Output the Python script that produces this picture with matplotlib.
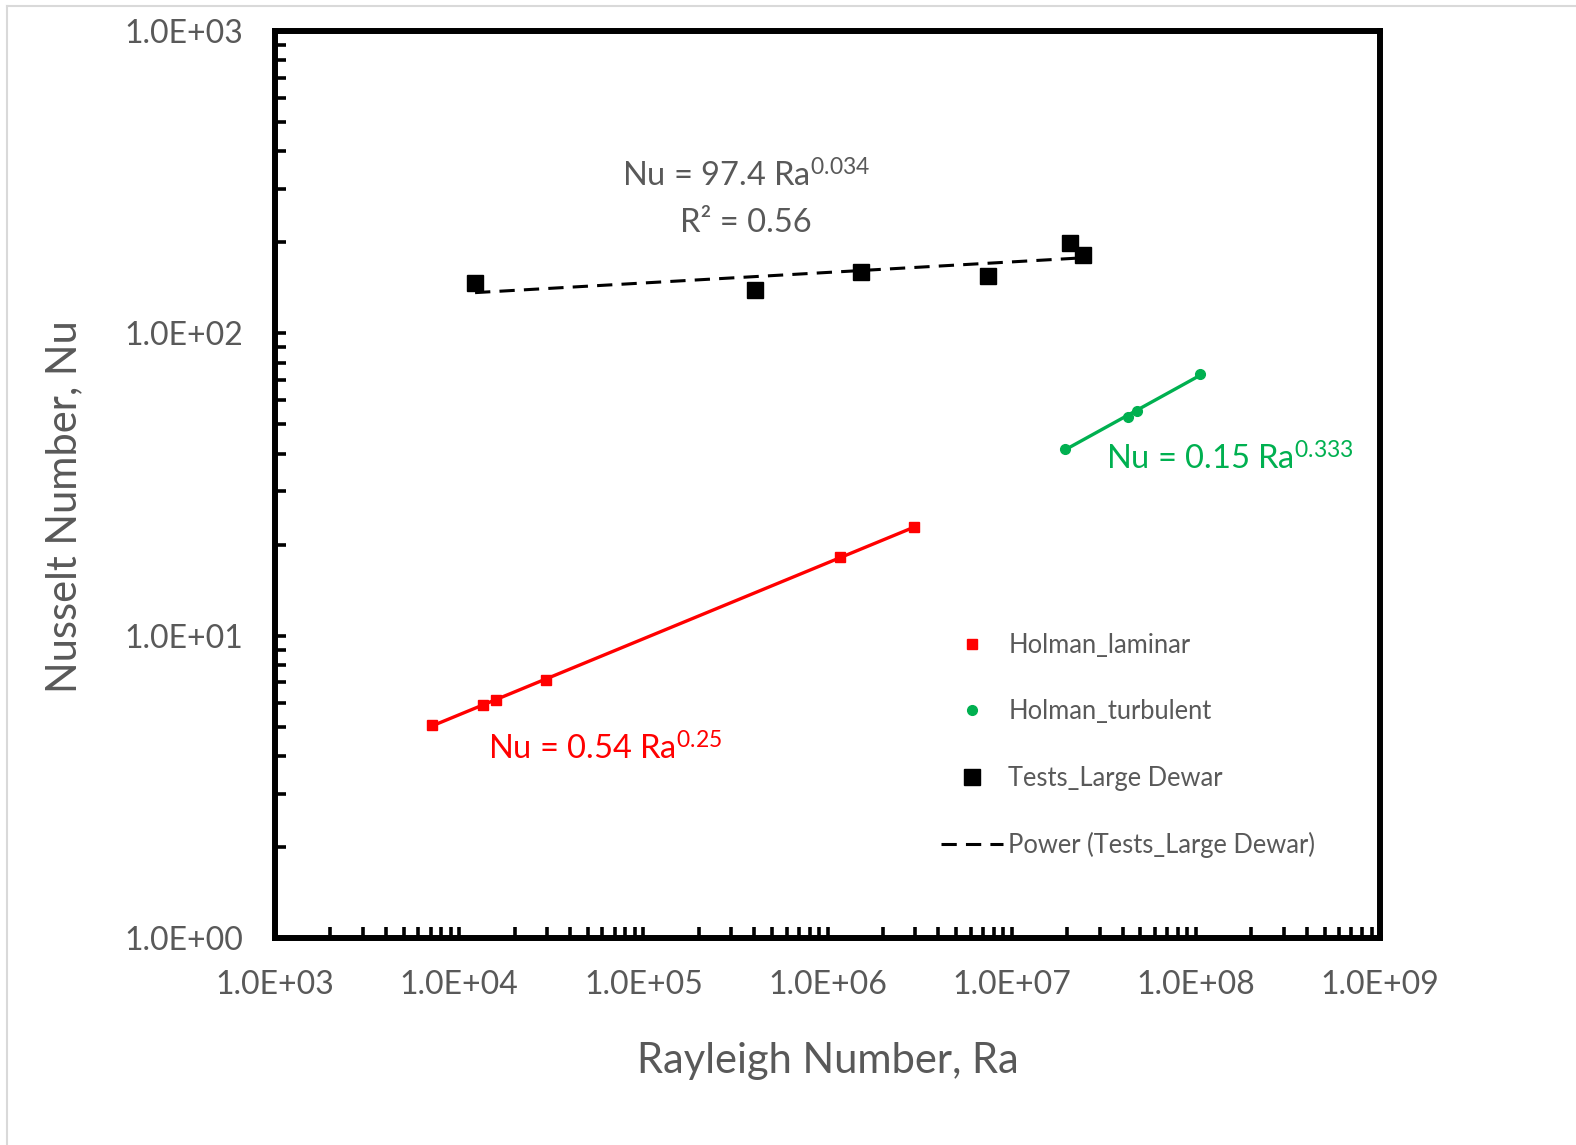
import numpy as np
import matplotlib
matplotlib.use("Agg")
import matplotlib.pyplot as plt
from matplotlib.ticker import LogLocator, FuncFormatter, NullFormatter
from matplotlib.lines import Line2D

plt.rcParams['font.family'] = ['Lato', 'DejaVu Sans']
plt.rcParams['mathtext.fontset'] = 'custom'
plt.rcParams['mathtext.rm'] = 'Lato'
plt.rcParams['mathtext.default'] = 'regular'

# data
ra_laminar = [7.1e3, 1.35e4, 1.58e4, 2.96e4, 1.17e6, 2.95e6]
nu_laminar = [5.06, 5.90, 6.13, 7.14, 18.2, 22.8]

ra_turbulent = [1.94e7, 4.3e7, 4.8e7, 1.06e8]
nu_turbulent = [41.5, 53.0, 55.5, 73.4]

ra_dewar = [1.22e4, 4.04e5, 1.52e6, 7.43e6, 2.08e7, 2.44e7]
nu_dewar = [146.6, 139.0, 159.5, 154.6, 199.0, 181.6]

x_ticks = [1e3, 1e4, 1e5, 1e6, 1e7, 1e8, 1e9]
y_ticks = [1e0, 1e1, 1e2, 1e3]

GRAY = '#595959'
RED = '#FF0000'
GREEN = '#00B050'
DASH = (5, 3)


def power_fit(x, y):
    # least squares in log space, like an Excel power trendline
    b, a = np.polyfit(np.log10(x), np.log10(y), 1)
    xs = np.logspace(np.log10(min(x)), np.log10(max(x)), 50)
    return xs, 10 ** a * xs ** b


fig = plt.figure(figsize=(15.76, 11.45), dpi=100)
ax = fig.add_axes([275 / 1576, 1 - 938 / 1145, 1105 / 1576, 907 / 1145])

# trend lines
xs, ys = power_fit(ra_laminar, nu_laminar)
ax.plot(xs, ys, color=RED, lw=2.4)
xs, ys = power_fit(ra_turbulent, nu_turbulent)
ax.plot(xs, ys, color=GREEN, lw=2.4)
xs, ys = power_fit(ra_dewar, nu_dewar)
ax.plot(xs, ys, color='black', lw=2.2, dashes=DASH)

ax.plot(ra_laminar, nu_laminar, 's', color=RED, ms=7, ls='none')
ax.plot(ra_turbulent, nu_turbulent, 'o', color=GREEN, ms=7, ls='none')
ax.plot(ra_dewar, nu_dewar, 's', color='black', ms=11, ls='none')

ax.set_xscale('log')
ax.set_yscale('log')
ax.set_xlim(x_ticks[0], x_ticks[-1])
ax.set_ylim(y_ticks[0], y_ticks[-1])
ax.set_xticks(x_ticks)
ax.set_yticks(y_ticks)
ax.xaxis.set_minor_locator(LogLocator(base=10, subs=np.arange(2, 10)))
ax.yaxis.set_minor_locator(LogLocator(base=10, subs=np.arange(2, 10)))
ax.xaxis.set_minor_formatter(NullFormatter())
ax.yaxis.set_minor_formatter(NullFormatter())
sci = FuncFormatter(lambda v, p: '{:.1E}'.format(v))
ax.xaxis.set_major_formatter(sci)
ax.yaxis.set_major_formatter(sci)

for s in ax.spines.values():
    s.set_linewidth(4.3)
    s.set_color('black')
ax.tick_params(which='both', direction='in', colors='black', labelcolor=GRAY,
               labelsize=23, width=2.6, length=8)
ax.tick_params(axis='x', which='both', pad=23)
ax.tick_params(axis='y', which='both', pad=23)

ax.set_xlabel('Rayleigh Number, Ra', fontsize=30, color=GRAY, labelpad=30)
ax.set_ylabel('Nusselt Number, Nu', fontsize=30, color=GRAY)
ax.yaxis.set_label_coords(-0.174, 0.476)

# equation labels
ax.text(0.426, 0.828, 'Nu = 97.4 Ra$^{0.034}$', transform=ax.transAxes,
        ha='center', va='baseline', fontsize=23.5, color=GRAY)
ax.text(0.426, 0.778, 'R² = 0.56', transform=ax.transAxes,
        ha='center', va='baseline', fontsize=23.5, color=GRAY)
ax.text(0.193, 0.197, 'Nu = 0.54 Ra$^{0.25}$', transform=ax.transAxes,
        ha='left', va='baseline', fontsize=23.5, color=RED)
ax.text(0.752, 0.516, 'Nu = 0.15 Ra$^{0.333}$', transform=ax.transAxes,
        ha='left', va='baseline', fontsize=23.5, color=GREEN)

handles = [
    Line2D([], [], marker='s', color=RED, ls='none', ms=7),
    Line2D([], [], marker='o', color=GREEN, ls='none', ms=7),
    Line2D([], [], marker='s', color='black', ls='none', ms=11),
    Line2D([], [], color='black', lw=2.2, dashes=DASH),
]
labels = ['Holman_laminar', 'Holman_turbulent', 'Tests_Large Dewar',
          'Power (Tests_Large Dewar)']
leg = fig.legend(handles, labels, loc='upper left',
                 bbox_to_anchor=(941 / 1576, 1 - 633 / 1145),
                 frameon=False, fontsize=18.4, labelspacing=1.62,
                 handlelength=2.43, handletextpad=0.2, borderpad=0,
                 borderaxespad=0)
for t in leg.get_texts():
    t.set_color(GRAY)

# light border of the original screenshot
fig.add_artist(Line2D([7 / 1576, 1], [1 - 6 / 1145] * 2, color='#d9d9d9', lw=1.5))
fig.add_artist(Line2D([7 / 1576] * 2, [0, 1 - 6 / 1145], color='#d9d9d9', lw=1.5))

fig.savefig('out.png', dpi=100)
